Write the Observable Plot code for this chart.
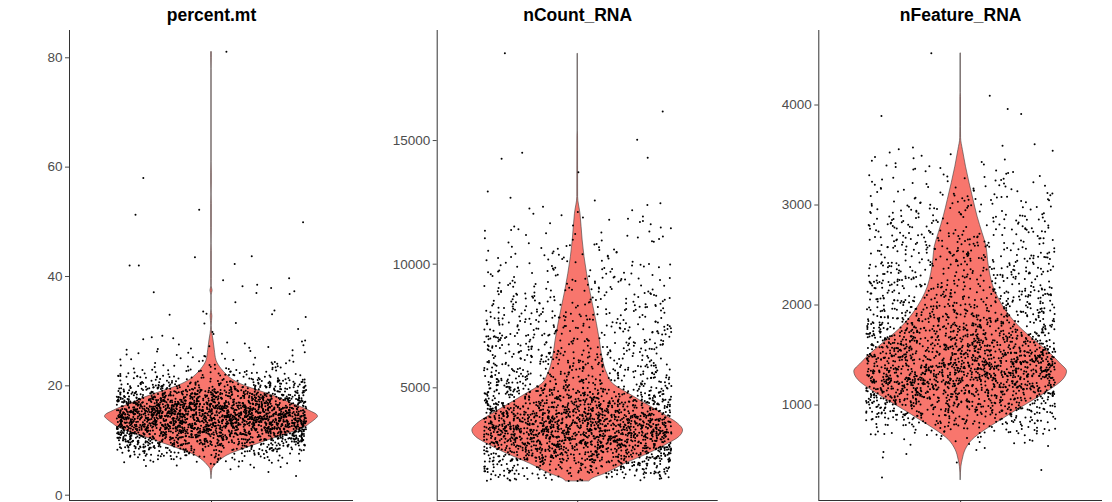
<!DOCTYPE html>
<html>
<head>
<meta charset="utf-8">
<script src="https://cdn.jsdelivr.net/npm/d3@7"></script>
<script src="https://cdn.jsdelivr.net/npm/@observablehq/plot@0.6"></script>
<style>
  html, body { margin: 0; padding: 0; background: #fff; }
  #chart { position: relative; width: 1112px; height: 502px; overflow: hidden;
           font-family: "Liberation Sans", Arial, sans-serif; }
  #chart > div { position: absolute; top: 0; }
</style>
</head>
<body>
<div id="chart"></div>
<script>
// ---- QC metrics, one violin per feature ----
const features = ["percent.mt", "nCount_RNA", "nFeature_RNA"];

// tick labels
const mtTicks = [0, 20, 40, 60, 80];
const countTicks = [5000, 10000, 15000];
const featureTicks = [1000, 2000, 3000, 4000];

// violin outlines: [value, relative half-width]
const mtProfile = [
  [3.0, 0], [4.0, 0.004], [4.8, 0.01], [5.4, 0.033], [6.35, 0.081], [7.26, 0.15],
  [8.5, 0.31], [9.6, 0.47], [10.6, 0.62], [11.5, 0.76], [12.44, 0.88], [13.06, 0.925],
  [13.8, 0.975], [14.36, 1.0], [14.8, 0.985], [15.2, 0.945], [15.8, 0.88], [16.8, 0.75],
  [17.9, 0.62], [19.0, 0.46], [20.07, 0.305], [21.0, 0.21], [21.9, 0.15], [23.1, 0.093],
  [24.6, 0.047], [26.5, 0.031], [28.3, 0.019], [29.5, 0.009], [31, 0.002], [32.7, 0.008],
  [34, 0.001], [36.5, 0.001], [37.4, 0.01], [38.2, 0.002], [39.5, 0.003], [44.7, 0.003],
  [46, 0.001], [48.8, 0.003], [53.3, 0.003], [55, 0.001], [57, 0.003], [59, 0.003],
  [61, 0.001], [78, 0.001], [79.9, 0.003], [81.05, 0.003]
];
const countProfile = [
  [1225, 0.112], [1320, 0.14], [1520, 0.26], [1925, 0.45], [2330, 0.67], [2735, 0.86],
  [3005, 0.963], [3275, 1.0], [3545, 0.953], [3815, 0.86], [4220, 0.70], [4760, 0.486],
  [5160, 0.336], [5570, 0.28], [6240, 0.234], [6910, 0.21], [7590, 0.182], [8260, 0.15],
  [8940, 0.117], [9610, 0.089], [10280, 0.065], [10960, 0.047], [11500, 0.037],
  [12040, 0.026], [12710, 0.004], [15200, 0.003], [15400, 0.001], [18510, 0.001]
];
const featureProfile = [
  [250, 0], [383, 0.007], [450, 0.019], [550, 0.047], [650, 0.112], [750, 0.234],
  [850, 0.383], [950, 0.533], [1050, 0.692], [1150, 0.841], [1250, 0.963], [1333, 1.0],
  [1417, 0.935], [1517, 0.841], [1650, 0.692], [1783, 0.551], [1917, 0.444], [2050, 0.364],
  [2183, 0.308], [2317, 0.276], [2450, 0.257], [2583, 0.243], [2717, 0.206], [2883, 0.159],
  [3050, 0.121], [3217, 0.084], [3383, 0.05], [3550, 0.021], [3667, 0.004], [3783, 0.003],
  [4083, 0.003], [4120, 0.001], [4517, 0.001]
];

// cells per value bin (bin start, bin width, lowest value, counts)
const mtBins = { start: 3, step: 1, floor: 3,
  counts: [1, 2, 10, 26, 49, 85, 124, 160, 206, 242, 263, 271, 250, 216, 180, 144, 106,
           72, 46, 31, 19, 13, 10, 9, 6, 5, 3] };
const countBins = { start: 1000, step: 500, floor: 1225,
  counts: [37, 134, 224, 311, 355, 316, 248, 174, 116, 96, 84, 77, 70, 64, 54, 45, 37,
           30, 23, 18, 15, 11, 7] };
const featureBins = { start: 200, step: 100, floor: 250,
  counts: [1, 1, 2, 5, 15, 45, 80, 117, 152, 185, 211, 217, 199, 176, 152, 129, 109, 92,
           80, 71, 64, 59, 56, 53, 49, 43, 37, 32, 27, 22, 17, 12, 8, 6] };

// isolated high cells: [value, horizontal jitter]
const mtOutliers = [
  [81.1, 0.063], [58.0, -0.288], [51.3, -0.321], [52.2, -0.052], [49.9, 0.387],
  [42.0, -0.346], [42.0, -0.307], [43.5, -0.070], [43.7, 0.170], [42.3, 0.098],
  [39.3, 0.049], [39.7, 0.328], [37.1, -0.244], [38.2, 0.131], [38.5, 0.193],
  [37.0, 0.190], [37.9, 0.252], [37.3, 0.350], [36.8, 0.330], [33.0, -0.177],
  [35.3, 0.101], [33.8, 0.266], [33.1, 0.256], [32.6, 0.398], [33.6, -0.035],
  [33.2, -0.021], [31.5, 0.103], [31.4, -0.030], [30.4, 0.366]
];
const countOutliers = [
  [18535, -0.311], [16175, 0.363], [15030, 0.254], [14505, -0.237], [14260, -0.325],
  [14300, 0.299], [13720, 0.003], [12940, -0.384], [12685, -0.287], [12575, 0.073]
];
const featureOutliers = [
  [4517, -0.124], [4093, 0.123], [3960, 0.199], [3910, 0.256], [3890, -0.335], [3607, 0.313]
];

// Horizontal jitter: cells are spread evenly in value inside each bin and
// scattered across ±0.4 with a scrambled (hashed) index so no stripes appear.
function scramble(i, salt) {
  let h = (i + 1) * 2654435761 ^ salt * 40503;
  h = Math.imul(h ^ (h >>> 16), 2246822507);
  h = Math.imul(h ^ (h >>> 13), 3266489909);
  h ^= h >>> 16;
  return (h >>> 0) / 4294967296;
}
function binnedCells({start, step, floor, counts}, salt) {
  const cells = [];
  let i = 0;
  counts.forEach((n, k) => {
    const lo = Math.max(start + k * step, floor), hi = start + (k + 1) * step;
    for (let j = 0; j < n; j++, i++) {
      const v = (j + 0.5) / n;
      cells.push({jitter: (scramble(i, salt) - 0.5) * 0.8, value: lo + v * (hi - lo)});
    }
  });
  return cells;
}

function violinPanel({title, profile, bins, outliers, ticks, yDomain, left, width, marginLeft, marginRight, salt}) {
  const cells = binnedCells(bins, salt)
    .concat(outliers.map(([value, jitter]) => ({jitter, value})));
  const shape = profile.map(([value, w]) => ({value, w}));
  const plot = Plot.plot({
    width, height: 502,
    marginTop: 30, marginBottom: 2, marginLeft, marginRight,
    x: {domain: [-0.6, 0.6], axis: null},
    y: {domain: yDomain, axis: null},
    style: {fontFamily: "'Liberation Sans', Arial, sans-serif", background: "transparent", overflow: "visible"},
    marks: [
      Plot.areaX(shape, {
        y: "value", x1: d => -0.45 * d.w, x2: d => 0.45 * d.w,
        curve: "monotone-y", fill: "#F8766D", stroke: "#3a3a3a", strokeWidth: 0.6
      }),
      Plot.dot(cells, {x: "jitter", y: "value", r: 1, fill: "black", stroke: null}),
      Plot.ruleX([-0.6], {stroke: "#333", strokeWidth: 1}),
      Plot.ruleY([yDomain[0]], {stroke: "#333", strokeWidth: 1}),
      Plot.axisY({ticks, tickSize: 4, tickPadding: 3, fontSize: 13.5, color: "#4d4d4d",
                  tickFormat: d3.format("d"), label: null}),
      Plot.axisX({ticks: [0], tickSize: 4, tickFormat: () => "", label: null, color: "#333"}),
      Plot.text([title], {frameAnchor: "top", dy: -9.5, lineAnchor: "bottom",
                          fontSize: 17.5, fontWeight: "bold", fill: "black"})
    ]
  });
  const holder = document.createElement("div");
  holder.style.left = left + "px";
  holder.appendChild(plot);
  document.getElementById("chart").appendChild(holder);
}

violinPanel({title: features[0], profile: mtProfile, bins: mtBins, outliers: mtOutliers,
  ticks: mtTicks, yDomain: [-0.97, 84.99], left: 0, width: 370, marginLeft: 69, marginRight: 17, salt: 11});
violinPanel({title: features[1], profile: countProfile, bins: countBins, outliers: countOutliers,
  ticks: countTicks, yDomain: [443, 19450], left: 370, width: 370, marginLeft: 66.7, marginRight: 22.3, salt: 37});
violinPanel({title: features[2], profile: featureProfile, bins: featureBins, outliers: featureOutliers,
  ticks: featureTicks, yDomain: [45, 4745], left: 740, width: 372, marginLeft: 78.3, marginRight: 10, salt: 63});
</script>
</body>
</html>
